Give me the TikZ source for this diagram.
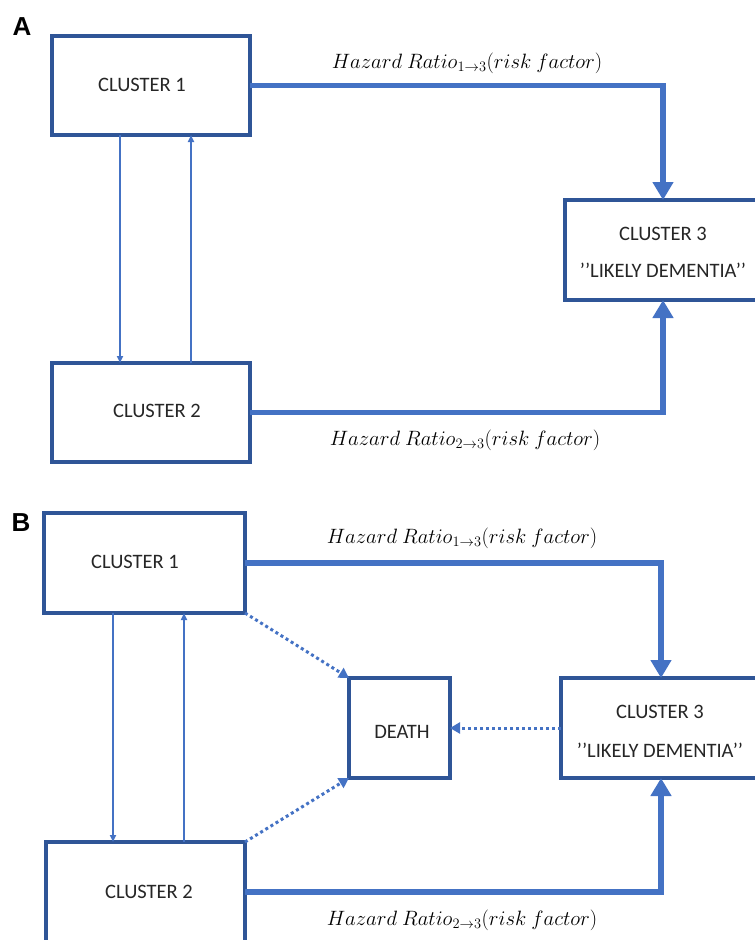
\documentclass[tikz,border=0pt]{standalone}
\usepackage{fontspec}
\setmainfont{Carlito}
\newfontfamily\panelfont{Liberation Sans}
\usetikzlibrary{arrows.meta}
\definecolor{boxc}{RGB}{47,85,151}
\definecolor{arrc}{RGB}{68,114,196}
\begin{document}
\begin{tikzpicture}[x=1pt,y=-1pt,
  cbox/.style={draw=boxc,line width=3.2pt,inner sep=0pt,outer sep=0pt,anchor=north west},
  ctext/.style={font=\fontsize{20.5}{24}\selectfont,text=black!85,inner sep=0pt},
  hrtext/.style={font=\fontsize{22.5}{26}\selectfont,inner sep=0pt},
  panel/.style={font=\panelfont\bfseries\fontsize{26}{28}\selectfont,inner sep=0pt},
  thickarr/.style={draw=arrc,line width=5.5pt,-{Triangle[width=20pt,length=18pt]}},
  thinarr/.style={draw=arrc,line width=1.6pt,-{Triangle[width=6pt,length=7pt]}},
  dotarr/.style={draw=arrc,line width=3pt,dash pattern=on 3pt off 3pt,-{Triangle[width=11pt,length=10pt]}}]
\useasboundingbox (0,0) rectangle (755,940);
% ---------- Panel A ----------
\node[panel] (pA) at (22,27) {A};
\node[cbox,minimum width=198pt,minimum height=99pt] (c1A) at (52,36) {};
\node[cbox,minimum width=198pt,minimum height=99pt] (c2A) at (52,363) {};
\node[cbox,minimum width=196pt,minimum height=100pt] (c3A) at (565,200) {};
\node[ctext] (t1A) at (142,85) {CLUSTER 1};
\node[ctext] (t2A) at (157,411) {CLUSTER 2};
\node[ctext] (t3A) at (663,234) {CLUSTER 3};
\node[ctext] (t3bA) at (663,270) {’’LIKELY DEMENTIA’’};
\draw[thickarr] (c1A.east) -- (c1A.east -| c3A.north) -- (c3A.north);
\draw[thickarr] (c2A.east) -- (c2A.east -| c3A.south) -- (c3A.south);
\draw[thinarr] ([xshift=-31pt]c1A.south) -- ([xshift=-31pt]c1A.south |- c2A.north);
\draw[thinarr] ([xshift=40pt]c1A.south |- c2A.north) -- ([xshift=40pt]c1A.south);
\node[hrtext] (h1A) at (467,63) {$Hazard\ Ratio_{1\to3}(risk\ factor)$};
\node[hrtext] (h2A) at (465,440) {$Hazard\ Ratio_{2\to3}(risk\ factor)$};
% ---------- Panel B ----------
\node[panel] (pB) at (21,523) {B};
\node[cbox,minimum width=201pt,minimum height=100pt] (c1B) at (44,513) {};
\node[cbox,minimum width=199pt,minimum height=100pt] (c2B) at (46,842) {};
\node[cbox,minimum width=200pt,minimum height=100pt] (c3B) at (561,678) {};
\node[cbox,minimum width=101pt,minimum height=100pt] (dB) at (349,678) {};
\node[ctext] (t1B) at (135,562) {CLUSTER 1};
\node[ctext] (t2B) at (149,892) {CLUSTER 2};
\node[ctext] (t3B) at (660,712) {CLUSTER 3};
\node[ctext] (t3bB) at (660,750) {’’LIKELY DEMENTIA’’};
\node[ctext] (tdB) at (402,732) {DEATH};
\draw[thickarr] (c1B.east) -- (c1B.east -| c3B.north) -- (c3B.north);
\draw[thickarr] (c2B.east) -- (c2B.east -| c3B.south) -- (c3B.south);
\draw[thinarr] ([xshift=-31.5pt]c1B.south) -- ([xshift=-31.5pt]c1B.south |- c2B.north);
\draw[thinarr] ([xshift=39.5pt]c1B.south |- c2B.north) -- ([xshift=39.5pt]c1B.south);
\draw[dotarr] (c1B.south east) -- (dB.north west);
\draw[dotarr] (c2B.north east) -- (dB.south west);
\draw[dotarr] (c3B.west) -- (dB.east);
\node[hrtext] (h1B) at (462,538) {$Hazard\ Ratio_{1\to3}(risk\ factor)$};
\node[hrtext] (h2B) at (462,920) {$Hazard\ Ratio_{2\to3}(risk\ factor)$};
\end{tikzpicture}
\end{document}
